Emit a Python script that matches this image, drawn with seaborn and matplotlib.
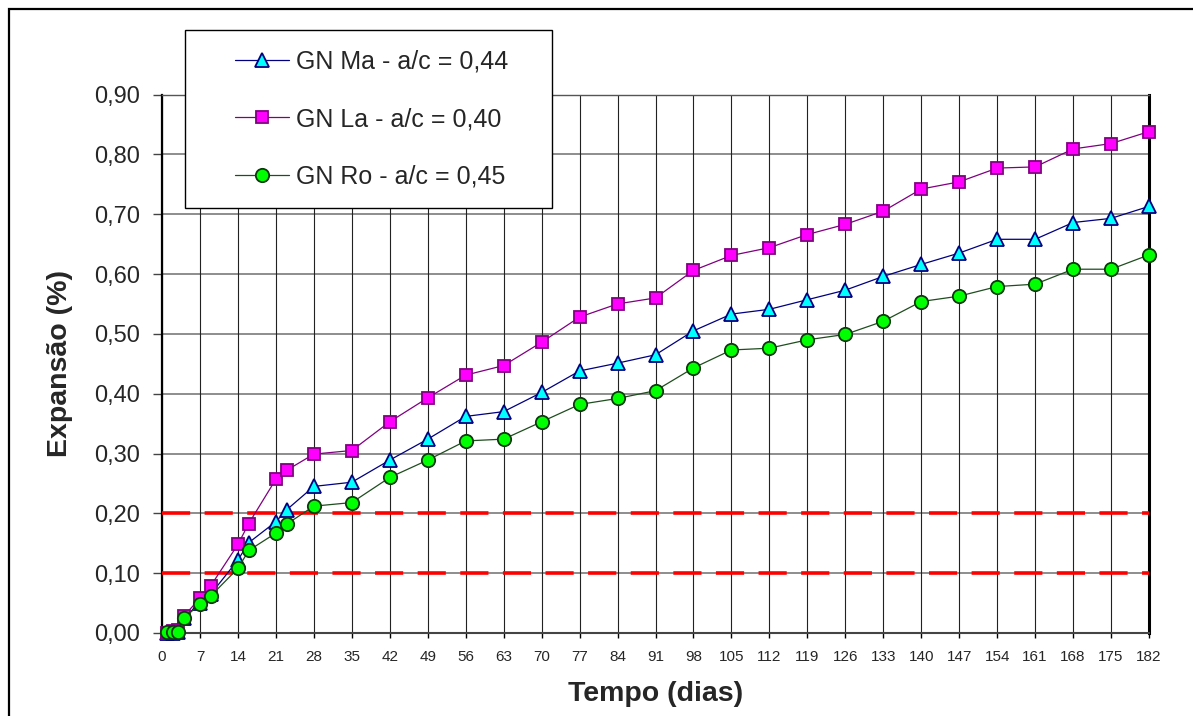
import matplotlib
matplotlib.use("Agg")
import numpy as np
import pandas as pd
import seaborn as sns
import matplotlib.pyplot as plt
from matplotlib.lines import Line2D
from matplotlib.patches import Rectangle
from matplotlib.ticker import FuncFormatter, FixedLocator

# ---- data ----
DAYS = [1, 2, 3, 4, 7, 9, 14, 16, 21, 23, 28, 35,
        42, 49, 56, 63, 70, 77, 84, 91, 98, 105, 112,
        119, 126, 133, 140, 147, 154, 161, 168, 175, 182]
GN_MA = [0.000, 0.000, 0.002, 0.025, 0.050, 0.065, 0.122, 0.151, 0.186, 0.206, 0.245, 0.252,
         0.289, 0.324, 0.362, 0.370, 0.402, 0.438, 0.451, 0.465, 0.505, 0.533, 0.541,
         0.557, 0.573, 0.596, 0.616, 0.635, 0.658, 0.658, 0.686, 0.693, 0.713]
GN_LA = [0.000, 0.003, 0.005, 0.028, 0.058, 0.079, 0.148, 0.183, 0.257, 0.272, 0.299, 0.305,
         0.353, 0.393, 0.431, 0.447, 0.486, 0.528, 0.550, 0.560, 0.606, 0.631, 0.644,
         0.666, 0.683, 0.705, 0.742, 0.754, 0.777, 0.779, 0.809, 0.818, 0.838]
GN_RO = [0.002, 0.002, 0.002, 0.025, 0.048, 0.062, 0.108, 0.138, 0.167, 0.182, 0.212, 0.218,
         0.260, 0.289, 0.321, 0.324, 0.353, 0.382, 0.392, 0.405, 0.443, 0.473, 0.476,
         0.490, 0.499, 0.521, 0.554, 0.563, 0.579, 0.583, 0.608, 0.608, 0.632]
SERIES_LABELS = ["GN Ma - a/c = 0,44", "GN La - a/c = 0,40", "GN Ro - a/c = 0,45"]
LIMITS = [0.10, 0.20]
X_TICKS = list(range(0, 183, 7))
Y_TICKS = [0.0, 0.1, 0.2, 0.3, 0.4, 0.5, 0.6, 0.7, 0.8, 0.9]
X_LABEL = "Tempo (dias)"
Y_LABEL = "Expansão (%)"

# ---- styles ----
STYLES = [
    dict(color="#000080", marker="^", markerfacecolor="#00FFFF", markeredgecolor="#000080", markersize=10.5),
    dict(color="#800080", marker="s", markerfacecolor="#FF00FF", markeredgecolor="#800080", markersize=9.3),
    dict(color="#1E4D1E", marker="o", markerfacecolor="#00FF00", markeredgecolor="#0B3A0B", markersize=9.6),
]

sns.set_style("white")
plt.rcParams["font.family"] = ["Liberation Sans", "DejaVu Sans"]

W, H = 1193, 716
fig = plt.figure(figsize=(W / 100, H / 100), dpi=100)
L, R, T, B = 162, 1149, 94.5, 633
ax = fig.add_axes([L / W, 1 - B / H, (R - L) / W, (B - T) / H])

df = pd.DataFrame({"dias": DAYS, "Ma": GN_MA, "La": GN_LA, "Ro": GN_RO})
for i, (col, st) in enumerate(zip(["Ma", "La", "Ro"], STYLES)):
    sns.lineplot(data=df, x="dias", y=col, ax=ax, lw=0.9, markeredgewidth=1.3,
                 clip_on=False, zorder=4 + i, legend=False, **st)

# limit lines
for lim in LIMITS:
    ax.axhline(lim, color="#FF0000", lw=2.6, linestyle=(0, (7.8, 4.0)), zorder=3, clip_on=False)

ax.set_xlim(0, 182)
ax.set_ylim(0, 0.9)
ax.xaxis.set_major_locator(FixedLocator(X_TICKS))
ax.yaxis.set_major_locator(FixedLocator(Y_TICKS))
ax.yaxis.set_major_formatter(FuncFormatter(lambda v, _: f"{v:.2f}".replace(".", ",")))

# gridlines
for yv in Y_TICKS:
    ax.axhline(yv, color="#7A7A7A", lw=1.2, zorder=1)
for xv in X_TICKS:
    ax.axvline(xv, color="#222222", lw=0.8, zorder=1)

for side in ["top", "right", "left", "bottom"]:
    ax.spines[side].set_visible(True)
ax.spines["left"].set_color("black"); ax.spines["left"].set_linewidth(1.6)
ax.spines["right"].set_color("black"); ax.spines["right"].set_linewidth(2.2)
ax.spines["top"].set_color("#555555"); ax.spines["top"].set_linewidth(1.0)
ax.spines["bottom"].set_color("#444444"); ax.spines["bottom"].set_linewidth(1.5)

ax.tick_params(axis="y", direction="out", length=6.5, width=1.0, color="#444444",
               pad=9, labelsize=17, left=True)
ax.tick_params(axis="x", direction="out", length=3.5, width=1.0, color="black",
               pad=9, labelsize=11, bottom=True)

ax.set_xlabel(X_LABEL, fontsize=20.5, fontweight="bold")
ax.set_ylabel(Y_LABEL, fontsize=20.5, fontweight="bold")
ax.xaxis.set_label_coords(0.5, (B - 694) / (B - T))
ax.yaxis.set_label_coords((60 - L) / (R - L), 0.5)
ax.xaxis.label.set_va("center")
ax.yaxis.label.set_va("center")

# legend box (opaque, covering the top-left of the plot)
box = Rectangle((185 / W, 1 - 208 / H), (552 - 185) / W, (208 - 30) / H,
                transform=fig.transFigure, facecolor="white", edgecolor="black",
                lw=1.0, zorder=10)
fig.patches.append(box)

handles = [Line2D([], [], lw=0.9, markeredgewidth=1.3, **st) for st in STYLES]
leg = fig.legend(handles, SERIES_LABELS, loc="center left",
                 bbox_to_anchor=(235 / W, 1 - 119 / H), bbox_transform=fig.transFigure,
                 frameon=False, fontsize=18, handlelength=2.16, handletextpad=0.28,
                 labelspacing=1.35, borderpad=0, borderaxespad=0)
leg.set_zorder(11)

# outer chart border
border = Rectangle((9 / W, -0.1), 1.2, (1 - 9 / H) + 0.1, transform=fig.transFigure,
                   facecolor="none", edgecolor="black", lw=1.6, zorder=12)
fig.patches.append(border)

fig.savefig("out.png", dpi=100, facecolor="white")
